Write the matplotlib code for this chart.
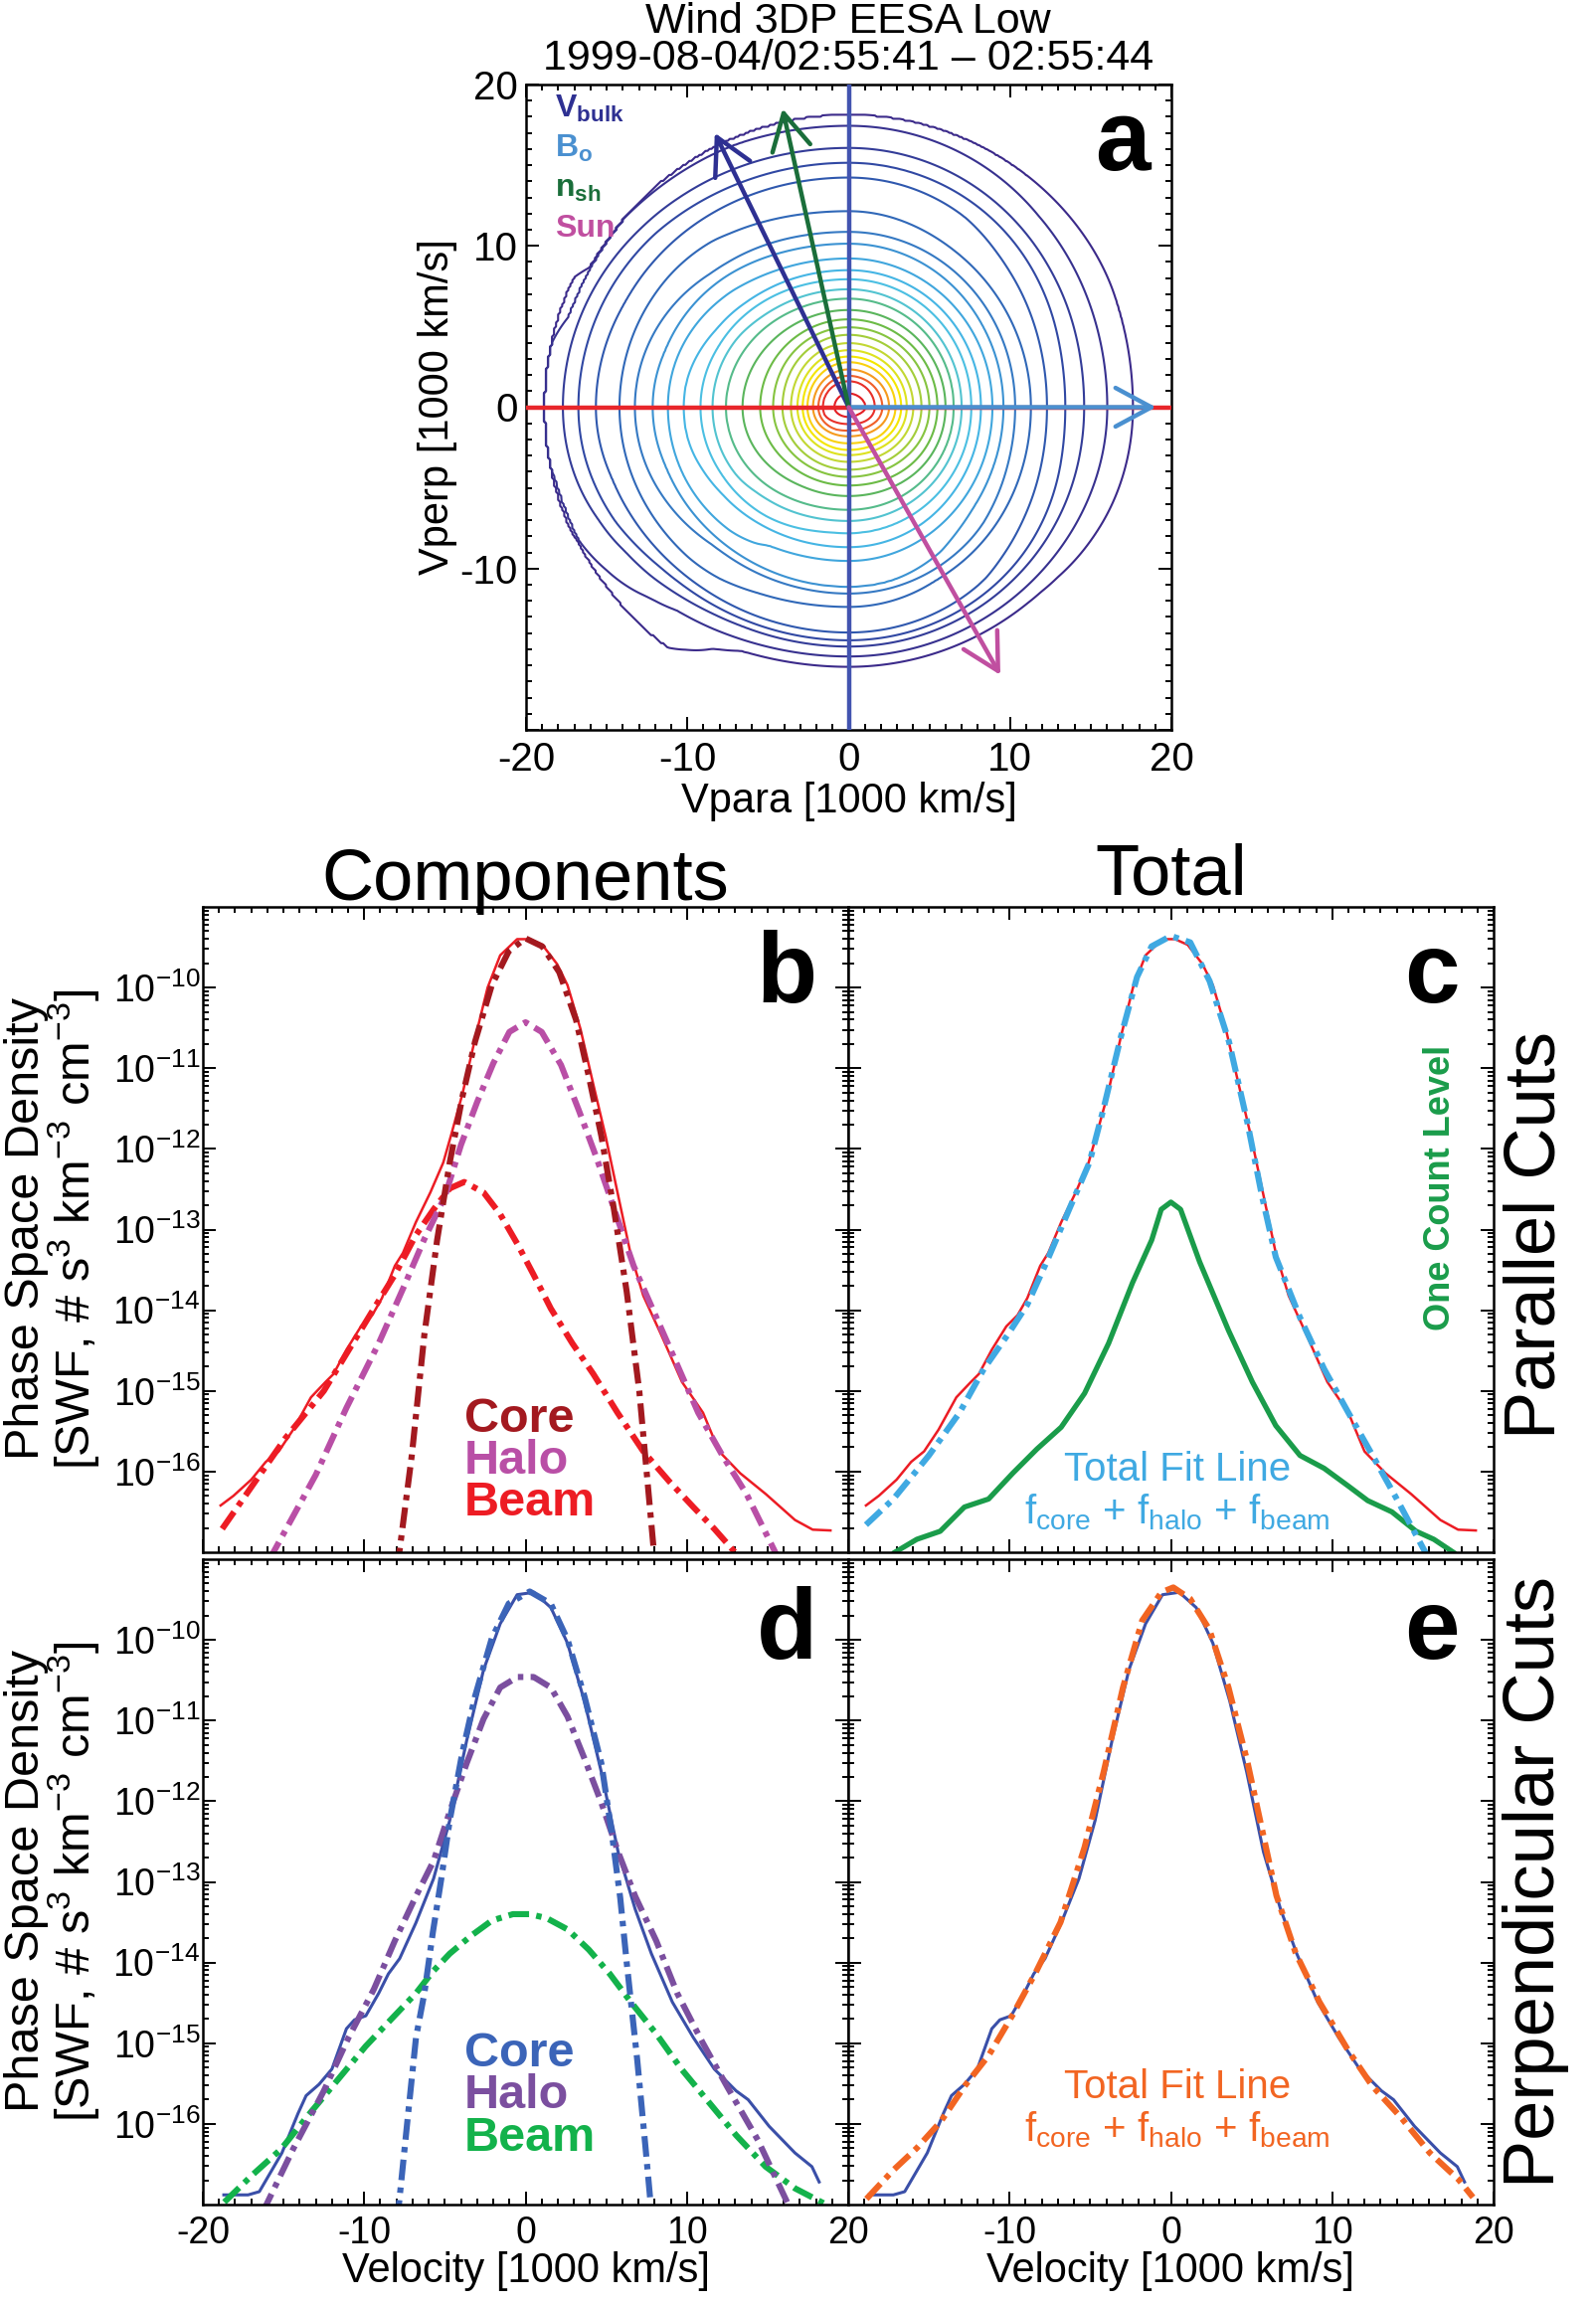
import numpy as np
import matplotlib
matplotlib.use('Agg')
from matplotlib import pyplot as plt
from matplotlib.ticker import MultipleLocator, FixedLocator, LogLocator, NullFormatter, FuncFormatter, LogFormatterSciNotation

plt.rcParams['font.family'] = ['Liberation Sans', 'DejaVu Sans']
plt.rcParams['mathtext.fontset'] = 'custom'
plt.rcParams['mathtext.rm'] = 'Liberation Sans'
plt.rcParams['mathtext.it'] = 'Liberation Sans:italic'
plt.rcParams['mathtext.bf'] = 'Liberation Sans:bold'
plt.rcParams['axes.unicode_minus'] = False
plt.rcParams['axes.linewidth'] = 1.8

# ---- parallel cut (velocity in 1000 km/s, log10 of phase space density) ----
par_v = [-18.9, -18.1, -17.0, -16.1, -15.3, -14.4, -13.3, -12.4, -11.9, -11.1, -10.2, -9.5, -8.9, -8.1,
         -7.6, -6.8, -5.9, -5.1, -4.6, -3.9, -3.1, -2.35, -1.57, -0.52, 0.26, 1.04, 1.96, 2.6, 3.4, 4.2,
         4.96, 5.7, 6.5, 7.3, 8.4, 9.7, 11.0, 12.0, 13.3, 14.9, 16.7, 17.8, 18.9]
par_log = [-16.42, -16.30, -16.10, -15.88, -15.75, -15.48, -15.08, -14.89, -14.79, -14.49, -14.20, -14.06,
           -13.85, -13.45, -13.29, -12.91, -12.54, -12.17, -11.82, -11.31, -10.61, -10.0, -9.60, -9.40,
           -9.40, -9.47, -9.71, -9.97, -10.51, -11.20, -11.84, -12.54, -13.29, -13.82, -14.30, -14.89,
           -15.27, -15.75, -16.02, -16.28, -16.60, -16.72, -16.73]

core_par_v = [-7.95, -7.05, -6.27, -5.48, -4.70, -3.92, -3.13, -2.09, -1.04, 0.0, 1.04, 2.09, 3.13, 3.92,
              4.70, 5.48, 6.27, 7.05, 8.05]
core_par_log = [-17.2, -15.80, -14.30, -13.13, -12.17, -11.36, -10.67, -9.97, -9.55, -9.39, -9.49, -9.81,
                -10.40, -11.10, -11.84, -12.75, -13.77, -15.0, -17.2]

halo_par_v = [-15.9, -13.0, -11.1, -9.1, -7.5, -6.3, -5.0, -4.0, -3.0, -2.0, -1.0, 0.0, 1.0, 2.2, 3.3, 4.4,
              5.5, 6.7, 8.0, 9.3, 10.7, 12.2, 13.7, 15.6]
halo_par_log = [-17.1, -16.04, -15.21, -14.41, -13.69, -13.13, -12.59, -11.95, -11.42, -10.94, -10.55,
                -10.43, -10.55, -10.96, -11.52, -12.11, -12.75, -13.45, -14.04, -14.63, -15.27, -15.80,
                -16.28, -17.05]

beam_par_v = [-18.8, -14.9, -12.5, -9.4, -8.1, -6.8, -5.7, -4.7, -3.8, -2.6, -1.57, -0.5, 0.5, 1.57, 2.9,
              4.2, 5.7, 7.3, 8.9, 10.4, 11.7, 13.2]
beam_par_log = [-16.71, -15.59, -15.0, -13.98, -13.56, -13.07, -12.75, -12.49, -12.41, -12.54, -12.81,
                -13.18, -13.56, -13.98, -14.41, -14.79, -15.27, -15.75, -16.12, -16.44, -16.71, -17.05]

total_par_v = [-18.9, -17.2, -15.0, -13.1, -11.6, -10.1, -8.9, -7.7, -6.2, -5.05, -4.2, -3.1, -2.1, -1.2,
               0.0, 1.2, 2.4, 3.6, 4.75, 5.65, 6.5, 8.0, 9.5, 11.0, 12.5, 14.0, 15.9]
total_par_log = [-16.66, -16.34, -15.80, -15.27, -14.73, -14.30, -13.93, -13.40, -12.70, -12.17, -11.52,
                 -10.61, -9.87, -9.49, -9.36, -9.44, -9.92, -10.67, -11.68, -12.59, -13.34, -14.09,
                 -14.73, -15.27, -15.80, -16.34, -17.05]

one_count_v = [-17.1, -15.75, -14.3, -12.8, -11.3, -9.8, -8.3, -6.8, -5.35, -3.86, -2.38, -1.19, -0.6,
               0.0, 0.6, 1.78, 3.57, 5.05, 6.5, 8.0, 9.5, 11.0, 12.2, 13.7, 15.2, 16.3, 17.5]
one_count_log = [-17.0, -16.84, -16.74, -16.44, -16.34, -16.02, -15.72, -15.45, -15.03, -14.41, -13.66,
                 -13.13, -12.75, -12.66, -12.75, -13.40, -14.25, -14.89, -15.43, -15.80, -15.96, -16.18,
                 -16.36, -16.50, -16.74, -16.84, -17.0]

# ---- perpendicular cut ----
perp_v = [-18.7, -17.2, -16.5, -15.1, -14.1, -13.6, -12.8, -12.0, -11.1, -10.6, -9.9, -9.1, -8.5, -7.8,
          -6.8, -5.7, -4.7, -3.65, -2.6, -1.57, -0.52, 0.52, 1.57, 2.6, 3.65, 4.7, 5.74, 6.8, 7.8, 9.1,
          10.4, 11.7, 13.05, 13.8, 15.1, 16.7, 17.75, 18.2]
perp_log = [-16.88, -16.88, -16.84, -16.36, -15.87, -15.65, -15.51, -15.32, -14.82, -14.71, -14.66, -14.38,
            -14.14, -13.95, -13.51, -12.96, -12.24, -11.25, -10.37, -9.80, -9.44, -9.41, -9.60, -10.04,
            -10.76, -11.64, -12.63, -13.34, -13.89, -14.49, -14.93, -15.32, -15.59, -15.70, -16.03, -16.36,
            -16.53, -16.72]

core_perp_v = [-7.95, -7.3, -6.79, -6.27, -5.74, -5.22, -4.70, -3.92, -3.13, -2.09, -1.04, 0.26, 1.56,
               2.61, 3.65, 4.70, 5.35, 5.87, 6.27, 6.92, 7.44, 7.85]
core_perp_log = [-17.2, -15.92, -14.93, -14.38, -13.62, -12.96, -12.24, -11.40, -10.70, -9.98, -9.55,
                 -9.40, -9.55, -10.0, -10.70, -11.53, -12.40, -13.20, -14.0, -15.2, -16.3, -17.2]

halo_perp_v = [-16.3, -14.4, -12.5, -10.97, -9.4, -8.1, -6.8, -5.7, -4.7, -3.65, -2.6, -1.57, -0.5, 0.5,
               1.57, 2.6, 3.65, 4.7, 5.74, 6.8, 8.1, 9.4, 10.97, 12.5, 14.4, 16.4]
halo_perp_log = [-17.1, -16.31, -15.59, -14.93, -14.33, -13.73, -13.18, -12.74, -12.13, -11.53, -10.98,
                 -10.59, -10.46, -10.46, -10.59, -10.95, -11.47, -12.02, -12.63, -13.18, -13.73, -14.38,
                 -14.99, -15.54, -16.2, -17.05]

beam_perp_v = [-18.67, -16.97, -15.14, -13.58, -11.75, -9.92, -8.36, -6.79, -5.74, -4.70, -3.39, -2.09,
               -0.78, 0.26, 1.31, 2.61, 3.92, 5.22, 6.53, 8.09, 9.66, 11.23, 13.05, 14.88, 16.71, 18.54]
beam_perp_log = [-16.97, -16.64, -16.31, -15.92, -15.48, -15.04, -14.71, -14.38, -14.11, -13.89, -13.67,
                 -13.48, -13.40, -13.40, -13.45, -13.59, -13.84, -14.14, -14.49, -14.88, -15.32, -15.70,
                 -16.14, -16.53, -16.80, -16.99]

total_perp_v = [-18.87, -17.24, -15.75, -14.26, -12.78, -11.29, -9.81, -8.32, -6.84, -5.35, -4.16, -2.97,
                -1.78, -0.59, 0.15, 1.19, 2.38, 3.57, 4.75, 5.65, 6.54, 7.73, 9.21, 10.99, 12.48, 14.26,
                16.05, 17.83, 18.72]
total_perp_log = [-16.93, -16.58, -16.30, -15.97, -15.53, -15.15, -14.65, -14.10, -13.50, -12.57, -11.63,
                  -10.59, -9.76, -9.41, -9.35, -9.49, -9.87, -10.59, -11.52, -12.35, -13.17, -13.88, -14.49,
                  -15.09, -15.53, -15.92, -16.36, -16.69, -16.91]

# ---- panel a: contour levels (log10 f) and their colours, outer to inner ----
contour_levels = [-16.70, -16.48, -16.23, -16.04, -15.81, -15.41, -15.07, -14.84, -14.53, -14.21, -13.95,
                  -13.62, -13.29, -12.82, -12.35, -11.88, -11.46, -11.03, -10.68, -10.41, -10.17, -9.93,
                  -9.76, -9.62, -9.47]
contour_colors = ['#3b2a8a', '#37318f', '#333c98', '#3048a3', '#2f58ae', '#3068b8', '#3579c3', '#3b92d2',
                  '#40a6dd', '#45b5e4', '#4bbfe2', '#52c3d0', '#55bb8a', '#5ab55c', '#6cbb46', '#86c440',
                  '#a3cd3a', '#c2d733', '#dde21f', '#f4e600', '#f9d10f', '#f59a1e', '#f0602a', '#e8302a',
                  '#e31e24']

# vector directions in panel a (tip positions, 1000 km/s)
vec_names = [r'V$_{\mathbf{bulk}}$', r'B$_{\mathbf{o}}$', r'n$_{\mathbf{sh}}$', 'Sun']
vec_tips = [(-8.3, 17.0), (19.05, 0.0), (-4.1, 18.5), (9.4, -16.6)]
vec_colors = ['#2e3092', '#4a90d0', '#1a6e3a', '#c04fa0']

DD = (0, (3.4, 1.2, 0.9, 1.2))
W, H = 1605, 2317
fig = plt.figure(figsize=(W / 100, H / 100), dpi=100)


def box(left, top, size=649):
    return [left / W, 1 - (top + size) / H, size / W, size / H]


def ticks_in(ax):
    ax.tick_params(which='both', direction='in', top=True, right=True, width=1.4)
    ax.tick_params(which='major', length=9.5)
    ax.tick_params(which='minor', length=4.3)


# ---------------- panel a ----------------
ax_a = fig.add_axes(box(529, 85))
xg = np.linspace(-20, 20, 321)
X, Y = np.meshgrid(xg, xg)
R = np.hypot(X, Y)
C2 = np.where(R > 0, (X / np.where(R > 0, R, 1)) ** 2, 1.0)
L_par = np.interp(np.sign(X) * R, par_v, par_log, left=-18, right=-18)
L_perp = np.interp(np.sign(Y) * R, perp_v, perp_log, left=-18, right=-18)
Z = C2 * L_par + (1 - C2) * L_perp
ax_a.contour(X, Y, Z, levels=contour_levels, colors=contour_colors, linewidths=1.5)
ax_a.axhline(0, color='#e8262b', lw=3.2, zorder=3)
ax_a.axvline(0, color='#4254b0', lw=3.2, zorder=3)
for tip, col in zip(vec_tips, vec_colors):
    ax_a.annotate('', xy=tip, xytext=(0, 0), zorder=4,
                  arrowprops=dict(arrowstyle='->,head_length=1.3,head_width=0.7', color=col, lw=3.2,
                                  mutation_scale=20, shrinkA=0, shrinkB=0))
for i, (name, col) in enumerate(zip(vec_names, vec_colors)):
    ax_a.text(0.045, 0.962 - i * 0.062, name, color=col, fontsize=23, fontweight='bold',
              ha='left', va='center', transform=ax_a.transAxes)
ax_a.text(0.925, 0.867, 'a', fontsize=72, fontweight='bold', ha='center', va='baseline',
          transform=ax_a.transAxes)
ax_a.set_xlim(-20, 20)
ax_a.set_ylim(-20, 20)
for axis in (ax_a.xaxis, ax_a.yaxis):
    axis.set_major_locator(MultipleLocator(10))
    axis.set_minor_locator(MultipleLocator(1))
ax_a.yaxis.set_major_formatter(FuncFormatter(lambda v, p: '' if v < -15 else '%d' % v))
ticks_in(ax_a)
ax_a.tick_params(axis='x', labelsize=29, pad=8)
ax_a.tick_params(axis='y', labelsize=29, pad=6)
ax_a.set_xlabel('Vpara [1000 km/s]', fontsize=30, labelpad=2)
ax_a.set_ylabel('Vperp [1000 km/s]', fontsize=30, labelpad=2)

fig.text(853 / W, 1 - 22 / H, 'Wind 3DP EESA Low', ha='center', va='center', fontsize=31)
fig.text(853 / W, 1 - 59 / H, '1999-08-04/02:55:41 \u2013 02:55:44', ha='center', va='center', fontsize=31)


# ---------------- cut panels ----------------
def cut_axes(ax, xlab, ylab, skip_left=False):
    ax.set_yscale('log')
    ax.set_xlim(-20, 20)
    ax.set_ylim(1e-17, 1e-9)
    ax.xaxis.set_major_locator(MultipleLocator(10))
    ax.xaxis.set_minor_locator(MultipleLocator(1))
    ax.yaxis.set_major_locator(FixedLocator(10.0 ** np.arange(-16, -9)))
    ax.yaxis.set_minor_locator(LogLocator(base=10, subs=np.arange(2, 10), numticks=30))
    ax.yaxis.set_minor_formatter(NullFormatter())
    ax.yaxis.set_major_formatter(LogFormatterSciNotation())
    if skip_left:
        ax.xaxis.set_major_formatter(FuncFormatter(lambda v, p: '' if v < -15 else '%d' % v))
    else:
        ax.xaxis.set_major_formatter(FuncFormatter(lambda v, p: '%d' % v))
    ticks_in(ax)
    ax.tick_params(axis='x', labelsize=27, pad=8, labelbottom=xlab)
    ax.tick_params(axis='y', labelsize=27, pad=2, labelleft=ylab)
    if xlab:
        ax.set_xlabel('Velocity [1000 km/s]', fontsize=30, labelpad=0)


def pl(ax, v, lg, **kw):
    ax.plot(v, 10.0 ** np.array(lg), **kw)


ax_b = fig.add_axes(box(204, 912))
ax_c = fig.add_axes(box(853, 912))
ax_d = fig.add_axes(box(204, 1568))
ax_e = fig.add_axes(box(853, 1568))
cut_axes(ax_b, False, True)
cut_axes(ax_c, False, False)
cut_axes(ax_d, True, True)
cut_axes(ax_e, True, False, skip_left=True)

LW = 4.4
# b: parallel components
pl(ax_b, par_v, par_log, color='#ec1c24', lw=1.8)
pl(ax_b, beam_par_v, beam_par_log, color='#ed1c24', lw=LW, ls=DD)
pl(ax_b, halo_par_v, halo_par_log, color='#b94fa6', lw=LW, ls=DD)
pl(ax_b, core_par_v, core_par_log, color='#a3191f', lw=LW, ls=DD)
for i, (lab, col) in enumerate(zip(['Core', 'Halo', 'Beam'], ['#a3191f', '#b94fa6', '#ed1c24'])):
    ax_b.text(0.405, 0.205 - i * 0.064, lab, color=col, fontsize=35, fontweight='bold',
              ha='left', va='center', transform=ax_b.transAxes)

# c: parallel total
pl(ax_c, par_v, par_log, color='#ec1c24', lw=1.8)
pl(ax_c, one_count_v, one_count_log, color='#1a9c4a', lw=3.8)
pl(ax_c, total_par_v, total_par_log, color='#3fa9e2', lw=LW, ls=DD)
ax_c.text(0.917, 0.565, 'One Count Level', color='#1a9c4a', fontsize=26, fontweight='bold', rotation=90,
          ha='center', va='center', transform=ax_c.transAxes)
ax_c.text(0.51, 0.128, 'Total Fit Line', color='#3fa9e2', fontsize=29, ha='center', va='center',
          transform=ax_c.transAxes)
ax_c.text(0.51, 0.062, r'f$_{\mathregular{core}}$ + f$_{\mathregular{halo}}$ + f$_{\mathregular{beam}}$',
          color='#3fa9e2', fontsize=29, ha='center', va='center', transform=ax_c.transAxes)

# d: perpendicular components
pl(ax_d, perp_v, perp_log, color='#3a4fa8', lw=2.2)
pl(ax_d, beam_perp_v, beam_perp_log, color='#13b24b', lw=LW, ls=DD)
pl(ax_d, halo_perp_v, halo_perp_log, color='#7b4f9f', lw=LW, ls=DD)
pl(ax_d, core_perp_v, core_perp_log, color='#3b64b8', lw=LW, ls=DD)
for i, (lab, col) in enumerate(zip(['Core', 'Halo', 'Beam'], ['#3b64b8', '#7b4f9f', '#13b24b'])):
    ax_d.text(0.405, 0.233 - i * 0.065, lab, color=col, fontsize=35, fontweight='bold',
              ha='left', va='center', transform=ax_d.transAxes)

# e: perpendicular total
pl(ax_e, perp_v, perp_log, color='#3a4fa8', lw=2.2)
pl(ax_e, total_perp_v, total_perp_log, color='#f26522', lw=LW, ls=DD)
ax_e.text(0.51, 0.182, 'Total Fit Line', color='#f26522', fontsize=29, ha='center', va='center',
          transform=ax_e.transAxes)
ax_e.text(0.51, 0.116, r'f$_{\mathregular{core}}$ + f$_{\mathregular{halo}}$ + f$_{\mathregular{beam}}$',
          color='#f26522', fontsize=29, ha='center', va='center', transform=ax_e.transAxes)

for ax, letter, yb in [(ax_b, 'b', 0.852), (ax_c, 'c', 0.852), (ax_d, 'd', 0.846), (ax_e, 'e', 0.846)]:
    ax.text(0.905, yb, letter, fontsize=72, fontweight='bold', ha='center', va='baseline',
            transform=ax.transAxes)

# headers and side labels
fig.text(528 / W, 1 - 905 / H, 'Components', fontsize=52, ha='center', va='baseline')
fig.text(1178 / W, 1 - 899 / H, 'Total', fontsize=52, ha='center', va='baseline')
fig.text(1545 / W, 1 - 1242 / H, 'Parallel Cuts', fontsize=52, rotation=90, ha='center', va='center')
fig.text(1545 / W, 1 - 1892 / H, 'Perpendicular Cuts', fontsize=52, rotation=90, ha='center', va='center')
for yc in (1236, 1892):
    fig.text(27 / W, 1 - yc / H, 'Phase Space Density', fontsize=35, rotation=90, ha='center', va='center')
    fig.text(74 / W, 1 - yc / H, r'[SWF, # s$^{3}$ km$^{-3}$ cm$^{-3}$]', fontsize=35, rotation=90,
             ha='center', va='center')

fig.savefig('out.png', dpi=100)
